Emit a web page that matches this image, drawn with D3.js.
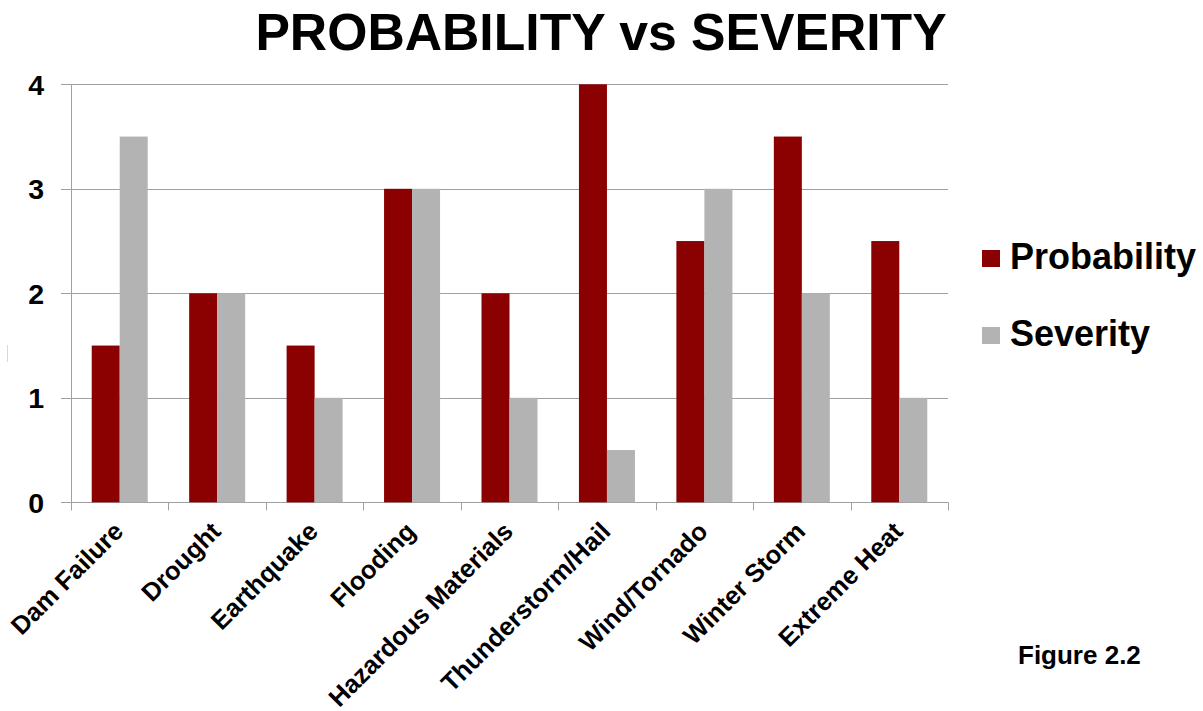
<!DOCTYPE html>
<html>
<head>
<meta charset="utf-8">
<script src="https://cdn.jsdelivr.net/npm/d3@7"></script>
<style>
  html, body { margin: 0; padding: 0; background: #fff; }
  svg { display: block; font-family: "Liberation Sans", Arial, sans-serif; }
</style>
</head>
<body>
<svg id="chart" width="1203" height="711"></svg>
<script>
// Hazard categories and their ratings
const categories = ["Dam Failure", "Drought", "Earthquake", "Flooding", "Hazardous Materials",
                    "Thunderstorm/Hail", "Wind/Tornado", "Winter Storm", "Extreme Heat"];
const probability = [1.5, 2, 1.5, 3, 2, 4, 2.5, 3.5, 2.5];
const severity    = [3.5, 2, 1, 3, 1, 0.5, 3, 2, 1];
const seriesNames = ["Probability", "Severity"];
const seriesColors = ["#8b0000", "#b3b3b3"];
const yTicks = [0, 1, 2, 3, 4];

const svg = d3.select("#chart");
const plot = { left: 71, right: 948, top: 84.3, bottom: 502.3 };

const x0 = d3.scaleBand().domain(categories).range([plot.left, plot.right]).padding(0);
const x1 = d3.scaleBand().domain(seriesNames).range([0, x0.bandwidth()])
  .paddingInner(0).paddingOuter(0.74);
const y = d3.scaleLinear().domain([0, 4]).range([plot.bottom, plot.top]);
const color = d3.scaleOrdinal().domain(seriesNames).range(seriesColors);

const rows = categories.map((c, i) => ({
  category: c,
  values: [
    { series: "Probability", value: probability[i] },
    { series: "Severity", value: severity[i] }
  ]
}));

// Title
svg.append("text")
  .attr("x", 601).attr("y", 50)
  .attr("text-anchor", "middle")
  .attr("font-size", 51.7).attr("font-weight", "bold")
  .attr("fill", "#000")
  .text("PROBABILITY vs SEVERITY");

// Horizontal gridlines with short ticks left of the axis
svg.append("g").selectAll("line").data(yTicks).join("line")
  .attr("x1", plot.left - 10).attr("x2", plot.right)
  .attr("y1", d => Math.round(y(d)) + 0.5).attr("y2", d => Math.round(y(d)) + 0.5)
  .attr("stroke", "#a0a0a0").attr("stroke-width", 1);

// Y axis labels
svg.append("g").selectAll("text").data(yTicks).join("text")
  .attr("x", 44).attr("y", d => y(d))
  .attr("dy", "0.36em")
  .attr("text-anchor", "end")
  .attr("font-size", 28.5).attr("font-weight", "bold")
  .text(d => d);

// Bars
const groups = svg.append("g").selectAll("g").data(rows).join("g")
  .attr("transform", d => `translate(${x0(d.category)},0)`);
groups.selectAll("rect").data(d => d.values).join("rect")
  .attr("x", d => x1(d.series))
  .attr("width", x1.bandwidth())
  .attr("y", d => y(d.value))
  .attr("height", d => y(0) - y(d.value))
  .attr("fill", d => color(d.series));

// Y axis line
svg.append("line")
  .attr("x1", plot.left + 0.5).attr("x2", plot.left + 0.5)
  .attr("y1", plot.top).attr("y2", plot.bottom + 8)
  .attr("stroke", "#a0a0a0");

// Category boundary ticks along the baseline
const boundaries = categories.map(c => x0(c)).concat([plot.right]);
svg.append("g").selectAll("line").data(boundaries).join("line")
  .attr("x1", d => Math.round(d) + 0.5).attr("x2", d => Math.round(d) + 0.5)
  .attr("y1", plot.bottom).attr("y2", plot.bottom + 8)
  .attr("stroke", "#a0a0a0");

// Rotated category labels
svg.append("g").selectAll("text").data(categories).join("text")
  .attr("transform", d => `translate(${x0(d) + x0.bandwidth() / 2 + 5},533) rotate(-45)`)
  .attr("text-anchor", "end")
  .attr("font-size", 25.5).attr("font-weight", "bold")
  .text(d => d);

// Legend
const legend = svg.append("g").selectAll("g").data(seriesNames).join("g")
  .attr("transform", (d, i) => `translate(982,${250 + i * 77})`);
legend.append("rect")
  .attr("width", 18).attr("height", 17)
  .attr("fill", d => color(d));
legend.append("text")
  .attr("x", 28).attr("y", 19)
  .attr("font-size", 36).attr("font-weight", "bold")
  .text(d => d);

// Small mark at the left margin
svg.append("line")
  .attr("x1", 7.5).attr("x2", 7.5).attr("y1", 345).attr("y2", 362)
  .attr("stroke", "#d8d8d8");

// Figure caption
svg.append("text")
  .attr("x", 1018).attr("y", 664)
  .attr("font-size", 26).attr("font-weight", "bold")
  .text("Figure 2.2");
</script>
</body>
</html>
